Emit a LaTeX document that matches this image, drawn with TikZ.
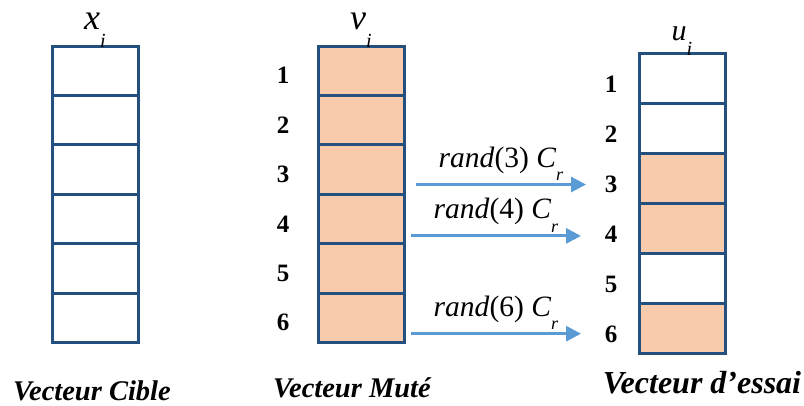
\documentclass[tikz,border=0pt]{standalone}
\usepackage{fontspec}
\setmainfont{Liberation Serif}
\usetikzlibrary{arrows.meta,positioning}
\definecolor{cellblue}{HTML}{23507F}
\definecolor{mutfill}{HTML}{F8CBAD}
\definecolor{arrblue}{HTML}{5B9BD5}
\newcommand{\vecname}[2]{\textit{#1}\raisebox{-0.5em}{\fontsize{20}{20}\selectfont\textit{#2}}}
\newcommand{\randcr}[1]{\textit{rand}(#1) \textit{C}\raisebox{-0.45em}{\fontsize{18}{18}\selectfont\textit{r}}}

\begin{document}
\begin{tikzpicture}[x=1pt,y=-1pt,
    cell/.style={draw=cellblue,line width=3pt,minimum width=86pt,minimum height=49.4pt,outer sep=0pt,inner sep=0pt},
    mut/.style={cell,fill=mutfill},
    num/.style={font=\fontsize{25}{25}\selectfont\bfseries},
    flow/.style={draw=arrblue,line width=3pt,-{Triangle[length=15pt,width=15pt]}},
    lbl/.style={font=\fontsize{29.5}{29.5}\selectfont},
    title/.style={font=\fontsize{28.5}{28.5}\selectfont\bfseries\itshape,anchor=base}]
    \useasboundingbox (0,0) rectangle (804,405);

    \node[cell] (x1) at (95,70.7) {};
    \node[mut] (v1) at (361,70.7) {};
    \node[cell,minimum height=50pt] (u1) at (682,78) {};
    \foreach \i [count=\j] in {2,...,6} {
        \node[cell,below=0pt of x\j] (x\i) {};
        \node[mut,below=0pt of v\j] (v\i) {};
    }
    \node[cell,minimum height=50pt,below=0pt of u1] (u2) {};
    \node[mut,minimum height=50pt,below=0pt of u2] (u3) {};
    \node[mut,minimum height=50pt,below=0pt of u3] (u4) {};
    \node[cell,minimum height=50pt,below=0pt of u4] (u5) {};
    \node[mut,minimum height=50pt,below=0pt of u5] (u6) {};

    \foreach \i in {1,...,6} {
        \node[num,left=25pt of v\i,yshift=-5pt] (nv\i) {\i};
        \node[num,left=18pt of u\i,yshift=-6pt] (nu\i) {\i};
    }

    \node[font=\fontsize{36}{36}\selectfont,above=-5pt of x1] (xlab) {\vecname{x}{i}};
    \node[font=\fontsize{36}{36}\selectfont,above=-5pt of v1] (vlab) {\vecname{v}{i}};
    \node[font=\fontsize{30}{30}\selectfont,above=-6pt of u1] (ulab) {\vecname{u}{i}};

    \coordinate (a3) at ([shift={(12,15)}]v3.east);
    \coordinate (a4) at ([shift={(7,17)}]v4.east);
    \coordinate (a6) at ([shift={(7,16)}]v6.east);
    \path (a3 -| u3.west) ++(-53,0) coordinate (b3);
    \path (a4 -| u4.west) ++(-58,0) coordinate (b4);
    \path (a6 -| u6.west) ++(-58,0) coordinate (b6);
    \draw[flow] (a3) -- (b3) node[lbl,midway,above=-1pt] {\randcr{3}};
    \draw[flow] (a4) -- (b4) node[lbl,midway,above=-1pt] {\randcr{4}};
    \draw[flow] (a6) -- (b6) node[lbl,midway,above=-1pt] {\randcr{6}};

    \node[title] (tx) at (92,400) {Vecteur Cible};
    \node[title] (tv) at (352,397) {Vecteur Muté};
    \node[title,font=\fontsize{32}{32}\selectfont\bfseries\itshape] (tu) at (702,393) {Vecteur d’essai};
\end{tikzpicture}
\end{document}
